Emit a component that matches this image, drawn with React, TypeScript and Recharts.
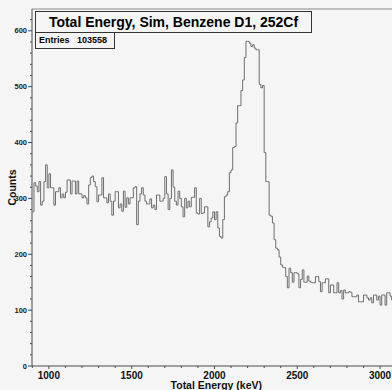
import React from "react";
import { ComposedChart, Line, XAxis, YAxis, ReferenceLine } from "recharts";

// 10 keV bins starting at 900 keV, counts per bin
const BIN_START = 900;
const BIN_WIDTH = 10;
const counts: number[] = [
  // 900
  276, 328, 322, 312, 330, 288, 295, 330, 360, 319,
  // 1000
  344, 319, 319, 288, 312, 312, 319, 301, 308, 301,
  // 1100
  311, 333, 333, 308, 331, 331, 308, 331, 308, 308,
  // 1200
  301, 305, 301, 290, 324, 337, 340, 330, 321, 294,
  // 1300
  306, 306, 337, 301, 301, 292, 308, 295, 270, 295,
  // 1400
  312, 312, 283, 290, 277, 313, 284, 301, 290, 301,
  // 1500
  301, 319, 321, 253, 295, 308, 319, 306, 295, 290,
  // 1600
  290, 299, 283, 288, 280, 306, 306, 295, 295, 300,
  // 1700
  339, 308, 280, 300, 351, 320, 295, 288, 313, 300,
  // 1800
  285, 267, 300, 283, 295, 285, 302, 302, 319, 274,
  // 1900
  272, 300, 273, 274, 285, 285, 249, 258, 265, 276,
  // 2000
  262, 276, 247, 232, 229, 262, 303, 306, 312, 346,
  // 2100
  351, 391, 393, 435, 466, 466, 493, 512, 552, 581,
  // 2200
  581, 578, 572, 575, 569, 566, 566, 504, 498, 502,
  // 2300
  382, 330, 330, 270, 268, 256, 226, 211, 208, 195,
  // 2400
  181, 177, 176, 160, 140, 175, 167, 150, 167, 167,
  // 2500
  165, 140, 155, 172, 150, 150, 161, 152, 150, 149,
  // 2600
  149, 160, 160, 151, 133, 149, 149, 156, 156, 131,
  // 2700
  145, 145, 131, 131, 149, 131, 135, 120, 136, 131,
  // 2800
  131, 133, 132, 124, 124, 124, 127, 115, 115, 115,
  // 2900
  127, 127, 122, 118, 122, 113, 127, 127, 118, 125,
  // 3000
  109, 127, 127, 109, 131, 131, 125, 118,
];

const X_DOMAIN: [number, number] = [898, 3072];
const Y_MAX = 639;
const xTicks: number[] = [];
for (let e = 900; e <= 3000; e += 100) xTicks.push(e);
const yTicks: number[] = [];
for (let v = 0; v <= 620; v += 20) yTicks.push(v);

// step histogram: each point is the lower edge of a bin, plus closing edge
const rows = counts.map((n, i) => ({ e: BIN_START + i * BIN_WIDTH, n }));
rows.push({ e: BIN_START + counts.length * BIN_WIDTH, n: counts[counts.length - 1] });

const BG = "#f5f5f5";
const AXIS = "#4a4a4a";
const FONT = "'Liberation Sans', Arial, sans-serif";

function YTick(props: any) {
  const { x, y, payload } = props;
  const major = payload.value % 100 === 0;
  return (
    <g>
      <line x1={x - (major ? 4 : 2)} x2={x} y1={y} y2={y} stroke={AXIS} strokeWidth={1} />
      {major && (
        <text
          x={x - 5}
          y={y + 2.5}
          textAnchor="end"
          fontFamily={FONT}
          fontWeight="bold"
          fontSize={7.5}
          fill="#222"
        >
          {payload.value}
        </text>
      )}
    </g>
  );
}

function XTick(props: any) {
  const { x, y, payload } = props;
  const major = payload.value % 500 === 0;
  return (
    <g>
      <line x1={x} x2={x} y1={y} y2={y + (major ? 3 : 2)} stroke={AXIS} strokeWidth={1} />
      {major && (
        <text
          x={x}
          y={y + 13}
          textAnchor="middle"
          fontFamily={FONT}
          fontWeight="bold"
          fontSize={10}
          fill="#111"
        >
          {payload.value}
        </text>
      )}
    </g>
  );
}

export default function App() {
  return (
    <div
      style={{
        position: "fixed",
        left: 0,
        top: 0,
        width: 392,
        height: 390,
        background: BG,
        overflow: "hidden",
      }}
    >
      <ComposedChart
        width={392}
        height={390}
        data={rows}
        margin={{ top: 9, right: 0, bottom: 0, left: 0 }}
      >
        <XAxis
          dataKey="e"
          type="number"
          domain={X_DOMAIN}
          allowDataOverflow
          ticks={xTicks}
          interval={0}
          height={24}
          tickSize={0}
          tickMargin={0}
          tickLine={false}
          stroke={AXIS}
          tick={<XTick />}
        />
        <YAxis
          type="number"
          domain={[0, Y_MAX]}
          allowDataOverflow
          ticks={yTicks}
          interval={0}
          width={32}
          tickSize={0}
          tickMargin={0}
          tickLine={false}
          stroke={AXIS}
          tick={<YTick />}
        />
        <ReferenceLine y={Y_MAX} stroke="#888" strokeWidth={1} />
        <Line
          dataKey="n"
          type="stepAfter"
          stroke="#6e6e6e"
          strokeWidth={1}
          dot={false}
          isAnimationActive={false}
        />
        <text
          x={262}
          y={389}
          textAnchor="end"
          fontFamily={FONT}
          fontWeight="bold"
          fontSize={10.5}
          fill="#111"
        >
          Total Energy (keV)
        </text>
        <text
          transform="translate(15.5,187.5) rotate(-90)"
          textAnchor="middle"
          fontFamily={FONT}
          fontWeight="bold"
          fontSize={10.5}
          fill="#111"
        >
          Counts
        </text>
      </ComposedChart>

      {/* title pave */}
      <div
        style={{
          position: "absolute",
          left: 35,
          top: 11,
          width: 277,
          height: 22,
          boxSizing: "border-box",
          border: "1px solid #333",
          background: BG,
          fontFamily: FONT,
          fontWeight: "bold",
          fontSize: 14,
          lineHeight: "20px",
          textAlign: "center",
          color: "#000",
        }}
      >
        Total Energy, Sim, Benzene D1, 252Cf
      </div>
      {/* stats pave */}
      <div
        style={{
          position: "absolute",
          left: 35,
          top: 32,
          width: 80,
          height: 17,
          boxSizing: "border-box",
          border: "1px solid #333",
          background: BG,
          fontFamily: FONT,
          fontWeight: "bold",
          fontSize: 9,
          lineHeight: "15px",
          color: "#000",
          paddingLeft: 3,
          whiteSpace: "pre",
        }}
      >
        {"Entries   103558"}
      </div>
    </div>
  );
}
